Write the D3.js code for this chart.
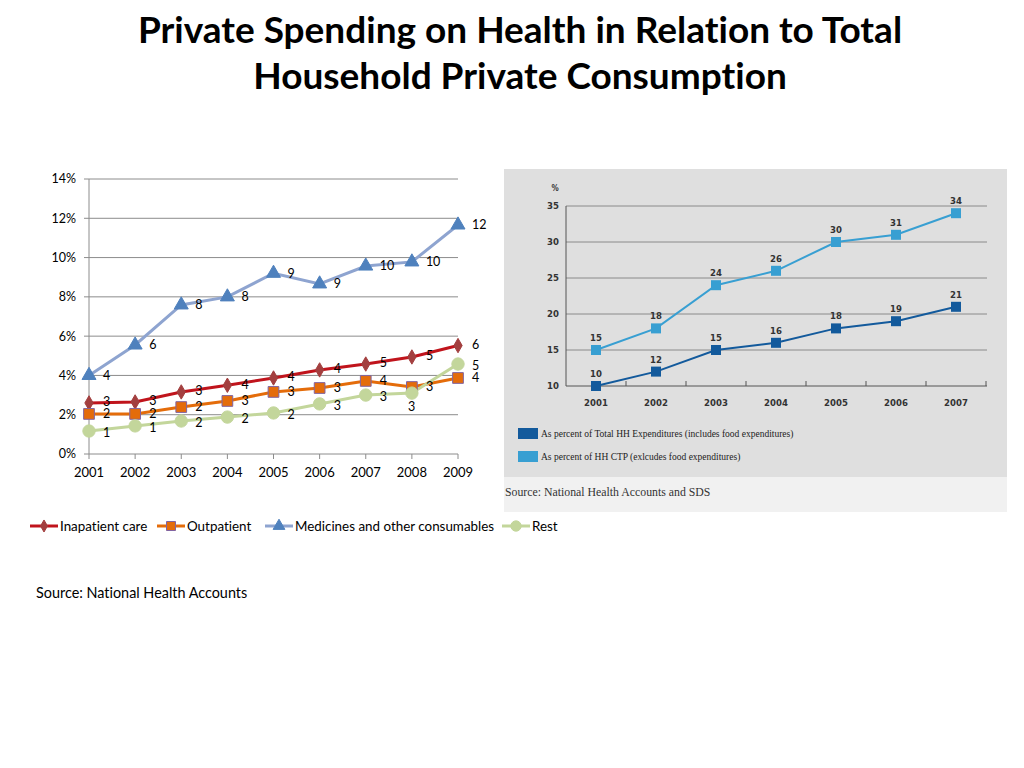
<!DOCTYPE html>
<html>
<head>
<meta charset="utf-8">
<script src="https://cdn.jsdelivr.net/npm/d3@7"></script>
<style>
  body { margin: 0; background: #fff; }
  svg { display: block; }
  text { font-variant-ligatures: none; }
</style>
</head>
<body>
<script>
// left chart data (% of household private consumption)
var years = ["2001","2002","2003","2004","2005","2006","2007","2008","2009"];
var inpatient = [2.6, 2.65, 3.16, 3.5, 3.87, 4.28, 4.58, 4.94, 5.52];
var outpatient = [2.04, 2.04, 2.39, 2.7, 3.16, 3.36, 3.72, 3.41, 3.87];
var medicines = [4.0, 5.55, 7.59, 8.0, 9.2, 8.66, 9.57, 9.78, 11.66];
var rest = [1.17, 1.43, 1.68, 1.88, 2.09, 2.55, 3.0, 3.1, 4.58];
var leftNames = ["Inapatient care", "Outpatient", "Medicines and other consumables", "Rest"];
var yTicks = [0, 2, 4, 6, 8, 10, 12, 14];

// right chart data
var yearsR = ["2001","2002","2003","2004","2005","2006","2007"];
var totalHH = [10, 12, 15, 16, 18, 19, 21];
var hhCTP = [15, 18, 24, 26, 30, 31, 34];
var rightNames = ["As percent of Total HH Expenditures (includes food expenditures)",
                  "As percent of HH CTP (exlcudes food expenditures)"];
var yTicksR = [10, 15, 20, 25, 30, 35];

var svg = d3.select("body").append("svg")
    .attr("width", 1024)
    .attr("height", 768);

// title
var title = svg.append("text")
    .attr("x", 520)
    .attr("text-anchor", "middle")
    .style("font-family", "Lato, 'Open Sans', sans-serif")
    .style("font-weight", "bold")
    .style("font-size", "37px")
    .attr("fill", "#000");
title.append("tspan").attr("x", 520).attr("y", 43).text("Private Spending on Health in Relation to Total");
title.append("tspan").attr("x", 520).attr("y", 89).text("Household Private Consumption");

// ---------- left chart ----------
var font = "Lato, 'Open Sans', sans-serif";
var x = d3.scalePoint().domain(years).range([89, 458]);
var y = d3.scaleLinear().domain([0, 14]).range([454, 179]);

var left = svg.append("g");

left.selectAll("line.grid")
    .data(yTicks)
    .enter()
    .append("line")
    .attr("x1", 89).attr("x2", 458)
    .attr("y1", function(d){ return y(d); })
    .attr("y2", function(d){ return y(d); })
    .attr("stroke", "#8c8c8c")
    .attr("stroke-width", 1);

left.append("line")
    .attr("x1", 89).attr("x2", 89)
    .attr("y1", y(14)).attr("y2", y(0))
    .attr("stroke", "#8c8c8c");

left.selectAll("line.ytick")
    .data(yTicks)
    .enter()
    .append("line")
    .attr("x1", 84).attr("x2", 89)
    .attr("y1", function(d){ return y(d); })
    .attr("y2", function(d){ return y(d); })
    .attr("stroke", "#8c8c8c");

left.selectAll("text.ylab")
    .data(yTicks)
    .enter()
    .append("text")
    .attr("x", 76)
    .attr("y", function(d){ return y(d); })
    .attr("dy", "0.35em")
    .attr("text-anchor", "end")
    .style("font-family", font)
    .style("font-size", "12.5px")
    .text(function(d){ return d + "%"; });

left.selectAll("line.xtick")
    .data(years)
    .enter()
    .append("line")
    .attr("x1", function(d){ return x(d); })
    .attr("x2", function(d){ return x(d); })
    .attr("y1", 454).attr("y2", 459)
    .attr("stroke", "#8c8c8c");

left.selectAll("text.xlab")
    .data(years)
    .enter()
    .append("text")
    .attr("x", function(d){ return x(d); })
    .attr("y", 477)
    .attr("text-anchor", "middle")
    .style("font-family", font)
    .style("font-size", "13px")
    .text(function(d){ return d; });

var series = [
  {name: leftNames[0], values: inpatient, line: "#c0141c", fill: "#a33f3f", stroke: "#a33f3f", sym: d3.symbolDiamond, size: 60},
  {name: leftNames[1], values: outpatient, line: "#e46c0a", fill: "#e46c0a", stroke: "#8064a2", sym: d3.symbolSquare, size: 115},
  {name: leftNames[2], values: medicines, line: "#8ea4d0", fill: "#4f81bd", stroke: "#4f81bd", sym: d3.symbolTriangle, size: 85},
  {name: leftNames[3], values: rest, line: "#c3d69b", fill: "#c3d69b", stroke: "#c3d69b", sym: d3.symbolCircle, size: 120}
];

var line = d3.line()
    .x(function(d, i){ return x(years[i]); })
    .y(function(d){ return y(d); });

series.forEach(function(s){
  left.append("path")
      .attr("d", line(s.values))
      .attr("fill", "none")
      .attr("stroke", s.line)
      .attr("stroke-width", 3);
});

// small vertical nudges so neighbouring labels do not collide
var nudge = [-1, 0, 0, 2];
series.forEach(function(s, k){
  left.selectAll("path.m" + k)
      .data(s.values)
      .enter()
      .append("path")
      .attr("d", d3.symbol().type(s.sym).size(s.size))
      .attr("transform", function(d, i){ return "translate(" + x(years[i]) + "," + y(d) + ")"; })
      .attr("fill", s.fill)
      .attr("stroke", s.stroke)
      .attr("stroke-width", 1);

  left.selectAll("text.l" + k)
      .data(s.values)
      .enter()
      .append("text")
      .attr("x", function(d, i){
        if (k == 3 && i == 7) return x(years[i]) - 4;   // rest 2008 sits below
        return x(years[i]) + 14;
      })
      .attr("y", function(d, i){
        if (k == 3 && i == 7) return y(d) + 14;
        return y(d) + nudge[k];
      })
      .attr("dy", "0.35em")
      .style("font-family", font)
      .style("font-size", "12.5px")
      .text(function(d){ return Math.round(d); });
});

// legend
var legX = [30, 157, 265, 502];
series.forEach(function(s, k){
  var g = left.append("g").attr("transform", "translate(" + legX[k] + ",526)");
  g.append("line").attr("x1", 0).attr("x2", 28).attr("y1", 0).attr("y2", 0)
      .attr("stroke", s.line).attr("stroke-width", 3);
  g.append("path")
      .attr("d", d3.symbol().type(s.sym).size(s.size * 0.7))
      .attr("transform", "translate(14,0)")
      .attr("fill", s.fill).attr("stroke", s.stroke);
  g.append("text")
      .attr("x", 30).attr("y", 0).attr("dy", "0.35em")
      .style("font-family", font)
      .style("font-size", "13.4px")
      .text(s.name);
});

svg.append("text")
    .attr("x", 36).attr("y", 598)
    .style("font-family", font)
    .style("font-size", "14.4px")
    .text("Source: National Health Accounts");

// ---------- right chart ----------
var right = svg.append("g");
right.append("rect")
    .attr("x", 504).attr("y", 169).attr("width", 503).attr("height", 343)
    .attr("fill", "#f1f1f1");
right.append("rect")
    .attr("x", 504).attr("y", 169).attr("width", 503).attr("height", 308)
    .attr("fill", "#dfdfdf");

var xr = d3.scaleBand().domain(yearsR).range([566, 986]);
var yr = d3.scaleLinear().domain([10, 35]).range([386, 206]);
var condensed = "'DejaVu Sans Condensed', 'Liberation Sans Narrow', sans-serif";
var serif = "'Liberation Serif', 'DejaVu Serif', serif";

right.selectAll("line.grid")
    .data(yTicksR)
    .enter()
    .append("line")
    .attr("x1", 566).attr("x2", 987)
    .attr("y1", function(d){ return yr(d); })
    .attr("y2", function(d){ return yr(d); })
    .attr("stroke", function(d){ return d == 10 ? "#555" : "#8a8a8a"; })
    .attr("stroke-width", 1);

right.append("line")
    .attr("x1", 566).attr("x2", 566)
    .attr("y1", yr(35)).attr("y2", yr(10))
    .attr("stroke", "#555");

right.selectAll("line.xtick")
    .data(yearsR)
    .enter()
    .append("line")
    .attr("x1", function(d){ return xr(d) + xr.bandwidth(); })
    .attr("x2", function(d){ return xr(d) + xr.bandwidth(); })
    .attr("y1", 386).attr("y2", 381)
    .attr("stroke", "#555");

right.selectAll("text.ylab")
    .data(yTicksR)
    .enter()
    .append("text")
    .attr("x", 559)
    .attr("y", function(d){ return yr(d); })
    .attr("dy", "0.35em")
    .attr("text-anchor", "end")
    .style("font-family", condensed)
    .style("font-weight", "bold")
    .style("font-size", "9.5px")
    .attr("fill", "#333")
    .text(function(d){ return d; });

right.append("text")
    .attr("x", 555).attr("y", 191)
    .attr("text-anchor", "middle")
    .style("font-family", condensed)
    .style("font-weight", "bold")
    .style("font-size", "8px")
    .attr("fill", "#333")
    .text("%");

right.selectAll("text.xlab")
    .data(yearsR)
    .enter()
    .append("text")
    .attr("x", function(d){ return xr(d) + xr.bandwidth() / 2; })
    .attr("y", 406)
    .attr("text-anchor", "middle")
    .style("font-family", condensed)
    .style("font-weight", "bold")
    .style("font-size", "9.5px")
    .attr("fill", "#333")
    .text(function(d){ return d; });

var seriesR = [
  {name: rightNames[0], values: totalHH, color: "#135a9c"},
  {name: rightNames[1], values: hhCTP, color: "#389fd2"}
];

var lineR = d3.line()
    .x(function(d, i){ return xr(yearsR[i]) + xr.bandwidth() / 2; })
    .y(function(d){ return yr(d); });

seriesR.forEach(function(s, k){
  right.append("path")
      .attr("d", lineR(s.values))
      .attr("fill", "none")
      .attr("stroke", s.color)
      .attr("stroke-width", 2);

  right.selectAll("rect.m" + k)
      .data(s.values)
      .enter()
      .append("rect")
      .attr("x", function(d, i){ return xr(yearsR[i]) + xr.bandwidth() / 2 - 5; })
      .attr("y", function(d){ return yr(d) - 5; })
      .attr("width", 10).attr("height", 10)
      .attr("fill", s.color);

  right.selectAll("text.l" + k)
      .data(s.values)
      .enter()
      .append("text")
      .attr("x", function(d, i){ return xr(yearsR[i]) + xr.bandwidth() / 2; })
      .attr("y", function(d){ return yr(d) - 9; })
      .attr("text-anchor", "middle")
      .style("font-family", condensed)
      .style("font-weight", "bold")
      .style("font-size", "9.5px")
      .attr("fill", "#333")
      .text(function(d){ return d; });

  right.append("rect")
      .attr("x", 518).attr("y", 428 + k * 23)
      .attr("width", 20).attr("height", 11)
      .attr("fill", s.color);
  right.append("text")
      .attr("x", 541).attr("y", 434 + k * 23)
      .attr("dy", "0.35em")
      .style("font-family", serif)
      .style("font-size", "9.5px")
      .attr("fill", "#222")
      .text(s.name);
});

right.append("text")
    .attr("x", 505).attr("y", 496)
    .style("font-family", serif)
    .style("font-size", "11.8px")
    .attr("fill", "#333")
    .text("Source: National Health Accounts and SDS");
</script>
</body>
</html>
